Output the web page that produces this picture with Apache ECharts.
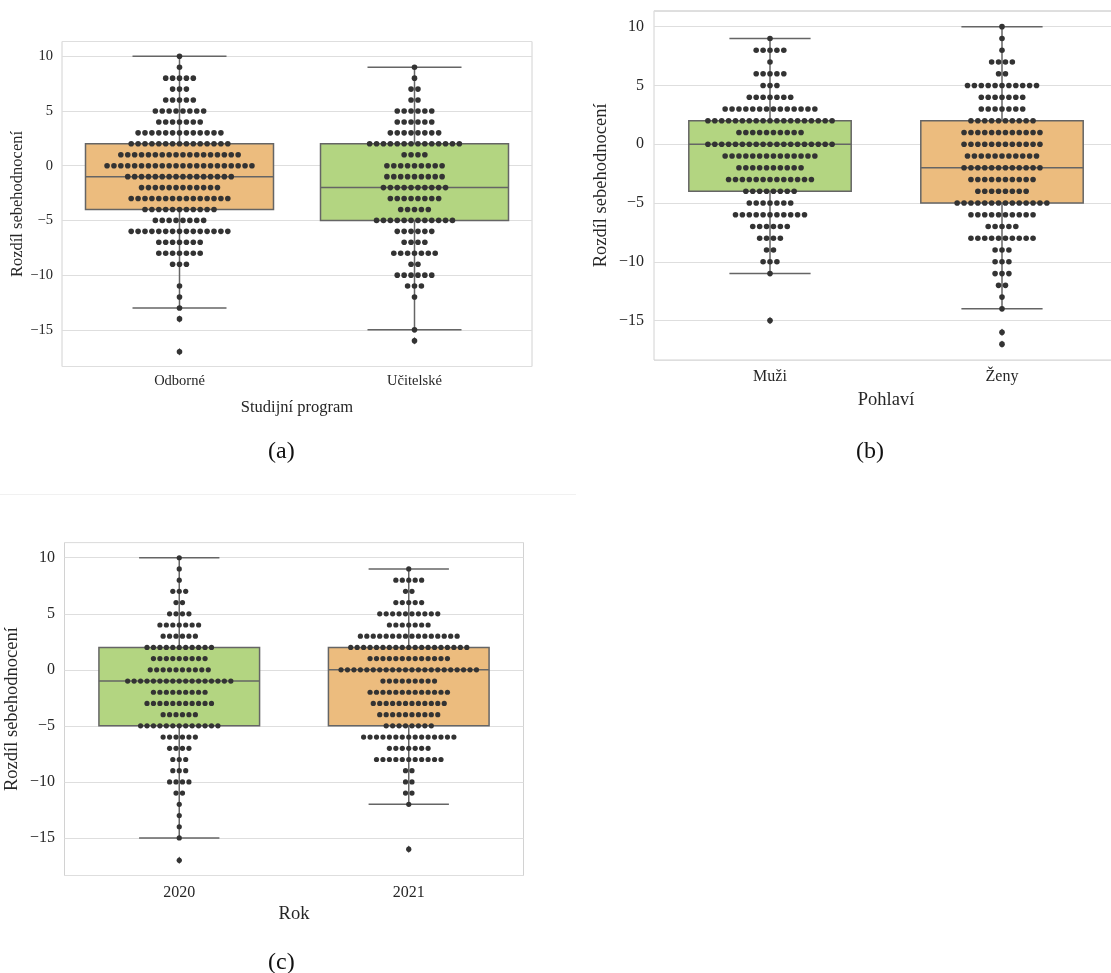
<!DOCTYPE html>
<html>
<head>
<meta charset="utf-8">
<script src="https://cdn.jsdelivr.net/npm/echarts@6/dist/echarts.min.js"></script>
<style>
html,body{margin:0;padding:0;background:#ffffff;}
#chart{width:1111px;height:973px;}
</style>
</head>
<body>
<div id="chart"></div>
<script>
// ---------------- DATA ----------------
// integer values of "Rozdíl sebehodnocení", from top to bottom
const VALUES = [10, 9, 8, 7, 6, 5, 4, 3, 2, 1, 0, -1, -2, -3, -4, -5, -6, -7, -8, -9, -10, -11, -12, -13, -14, -15, -16, -17];
const Y_TICKS = [-15, -10, -5, 0, 5, 10];

// (a) Studijní program
const catsA = ['Odborné', 'Učitelské'];
const countsOdborne  = [1, 1, 5, 3, 5, 8, 7, 13, 15, 18, 22, 16, 12, 15, 11, 8, 15, 7, 7, 3, 0, 1, 1, 1, 1, 0, 0, 1];
const countsUcitelske = [0, 1, 1, 2, 2, 6, 6, 8, 14, 4, 9, 9, 10, 8, 5, 12, 6, 4, 7, 2, 6, 3, 1, 0, 0, 1, 1, 0];
// [lower whisker, Q1, median, Q3, upper whisker]
const boxOdborne   = [-13, -4, -1, 2, 10];
const boxUcitelske = [-15, -5, -2, 2, 9];
const outOdborne   = [-14, -17];
const outUcitelske = [-16];

// (b) Pohlaví
const catsB = ['Muži', 'Ženy'];
const countsMuzi = [0, 1, 5, 1, 5, 3, 7, 14, 19, 10, 19, 14, 10, 13, 8, 7, 11, 6, 4, 2, 3, 1, 0, 0, 0, 1, 0, 0];
const countsZeny = [1, 1, 1, 4, 2, 11, 7, 7, 10, 12, 12, 11, 12, 10, 8, 14, 10, 5, 10, 3, 3, 3, 2, 1, 1, 0, 1, 1];
const boxMuzi = [-11, -4, 0, 2, 9];
const boxZeny = [-14, -5, -2, 2, 10];
const outMuzi = [-15];
const outZeny = [-16, -17];

// (c) Rok
const catsC = ['2020', '2021'];
const counts2020 = [1, 1, 1, 3, 2, 4, 7, 6, 11, 9, 10, 17, 9, 11, 6, 13, 6, 4, 3, 3, 4, 2, 1, 1, 1, 1, 0, 1];
const counts2021 = [0, 1, 5, 2, 5, 10, 7, 16, 19, 13, 22, 9, 13, 12, 10, 8, 15, 7, 11, 2, 2, 2, 1, 0, 0, 0, 1, 0];
const box2020 = [-15, -5, -1, 2, 10];
const box2021 = [-12, -5, 0, 2, 9];
const out2020 = [-17];
const out2021 = [-16];

const yTitle = 'Rozdíl sebehodnocení';
const xTitles = ['Studijní program', 'Pohlaví', 'Rok'];
const captions = ['(a)', '(b)', '(c)'];

// ---------------- STYLE ----------------
const ORANGE = '#ecbc7e';
const GREEN = '#b3d581';
const EDGE = '#656565';
const DOT = '#333333';
const TEXT = '#262626';
const FONT = "'Liberation Serif', 'DejaVu Serif', serif";
const Y_MIN = -18.35, Y_MAX = 11.35;

const panels = [
  { cats: catsA, counts: [countsOdborne, countsUcitelske], boxes: [boxOdborne, boxUcitelske],
    outs: [outOdborne, outUcitelske], colors: [ORANGE, GREEN],
    grid: { left: 62, top: 41.5, width: 470, height: 325 },
    boxFrac: 0.8, gap: 6.9, dot: 5.6, tickFont: 14.5, titleFont: 16.5,
    xLabelMargin: 7.5, yLabelMargin: 9, xNameGap: 33, yNameGap: 36 },
  { cats: catsB, counts: [countsMuzi, countsZeny], boxes: [boxMuzi, boxZeny],
    outs: [outMuzi, outZeny], colors: [GREEN, ORANGE],
    grid: { left: 654, top: 10.8, width: 464, height: 349.2 },
    boxFrac: 0.7, gap: 6.9, dot: 5.6, tickFont: 16, titleFont: 18.5,
    xLabelMargin: 9, yLabelMargin: 10, xNameGap: 31, yNameGap: 43 },
  { cats: catsC, counts: [counts2020, counts2021], boxes: [box2020, box2021],
    outs: [out2020, out2021], colors: [GREEN, ORANGE],
    grid: { left: 64.5, top: 542.6, width: 459, height: 332.9 },
    boxFrac: 0.7, gap: 6.45, dot: 5.2, tickFont: 16, titleFont: 18.5,
    xLabelMargin: 9.5, yLabelMargin: 9.5, xNameGap: 29, yNameGap: 43 }
];

const grids = [], xAxes = [], yAxes = [], series = [];

panels.forEach((p, pi) => {
  grids.push(Object.assign({ show: true, borderColor: '#d2d2d2', borderWidth: 1, containLabel: false, outerBoundsMode: 'none' }, p.grid));
  xAxes.push({
    type: 'category', gridIndex: pi, data: p.cats, boundaryGap: true,
    axisLine: { show: false }, axisTick: { show: false }, splitLine: { show: false },
    axisLabel: { color: TEXT, fontFamily: FONT, fontSize: p.tickFont, margin: p.xLabelMargin },
    name: xTitles[pi], nameLocation: 'middle', nameGap: p.xNameGap,
    nameTextStyle: { color: TEXT, fontFamily: FONT, fontSize: p.titleFont }
  });
  yAxes.push({
    type: 'value', gridIndex: pi, min: Y_MIN, max: Y_MAX,
    splitNumber: 6, minInterval: 5, maxInterval: 5,
    axisLine: { show: false }, axisTick: { show: false },
    splitLine: { show: true, lineStyle: { color: '#dedede', width: 1 } },
    axisLabel: {
      color: TEXT, fontFamily: FONT, fontSize: p.tickFont, margin: p.yLabelMargin,
      showMinLabel: false, showMaxLabel: false,
      formatter: v => (Y_TICKS.indexOf(v) >= 0 ? String(v).replace('-', '\u2212') : '')
    },
    name: yTitle, nameLocation: 'middle', nameGap: p.yNameGap, nameRotate: 90,
    nameTextStyle: { color: TEXT, fontFamily: FONT, fontSize: p.titleFont }
  });

  // box + whiskers
  const boxData = p.boxes.map((b, i) => [i].concat(b));
  series.push({
    type: 'custom', xAxisIndex: pi, yAxisIndex: pi, z: 2,
    data: boxData, encode: { x: 0, y: [1, 2, 3, 4, 5] },
    renderItem: (params, api) => {
      const c = api.value(0);
      const pMin = api.coord([c, api.value(1)]);
      const pQ1 = api.coord([c, api.value(2)]);
      const pMed = api.coord([c, api.value(3)]);
      const pQ3 = api.coord([c, api.value(4)]);
      const pMax = api.coord([c, api.value(5)]);
      const x = pMed[0];
      const band = api.size([1, 0])[0];
      const half = band * p.boxFrac / 2;
      const cap = half / 2;
      const ls = { stroke: EDGE, lineWidth: 1.5 };
      return {
        type: 'group',
        children: [
          { type: 'line', shape: { x1: x, y1: pQ3[1], x2: x, y2: pMax[1] }, style: ls },
          { type: 'line', shape: { x1: x, y1: pQ1[1], x2: x, y2: pMin[1] }, style: ls },
          { type: 'line', shape: { x1: x - cap, y1: pMax[1], x2: x + cap, y2: pMax[1] }, style: ls },
          { type: 'line', shape: { x1: x - cap, y1: pMin[1], x2: x + cap, y2: pMin[1] }, style: ls },
          { type: 'rect', shape: { x: x - half, y: pQ3[1], width: 2 * half, height: pQ1[1] - pQ3[1] },
            style: { fill: p.colors[params.dataIndex], stroke: EDGE, lineWidth: 1.5 } },
          { type: 'line', shape: { x1: x - half, y1: pMed[1], x2: x + half, y2: pMed[1] }, style: ls }
        ]
      };
    }
  });

  // outliers (diamonds)
  const outData = [];
  p.outs.forEach((arr, ci) => arr.forEach(v => outData.push([ci, v])));
  series.push({
    type: 'scatter', xAxisIndex: pi, yAxisIndex: pi, z: 3,
    symbol: 'diamond', symbolSize: [5, 7.5],
    itemStyle: { color: '#1e1e1e' },
    data: outData, silent: true
  });

  // swarm dots
  const dots = [];
  p.counts.forEach((cnt, ci) => {
    cnt.forEach((n, k) => {
      for (let i = 0; i < n; i++) {
        dots.push({ value: [ci, VALUES[k]], symbolOffset: [(i - (n - 1) / 2) * p.gap, 0] });
      }
    });
  });
  series.push({
    type: 'scatter', xAxisIndex: pi, yAxisIndex: pi, z: 4,
    symbol: 'circle', symbolSize: p.dot,
    itemStyle: { color: DOT, opacity: 1 },
    data: dots, silent: true
  });
});

const chart = echarts.init(document.getElementById('chart'), null, { renderer: 'canvas' });
chart.setOption({
  animation: false,
  backgroundColor: '#ffffff',
  grid: grids,
  xAxis: xAxes,
  yAxis: yAxes,
  series: series,
  graphic: [
    { type: 'line', shape: { x1: 0, y1: 494.5, x2: 576, y2: 494.5 }, style: { stroke: '#f1f1f1', lineWidth: 1 }, silent: true },
    { type: 'text', left: 268, top: 440, style: { text: captions[0], fill: '#111', font: "24px 'Liberation Serif', serif" } },
    { type: 'text', left: 856, top: 440, style: { text: captions[1], fill: '#111', font: "24px 'Liberation Serif', serif" } },
    { type: 'text', left: 268, top: 951, style: { text: captions[2], fill: '#111', font: "24px 'Liberation Serif', serif" } }
  ]
});
</script>
</body>
</html>
